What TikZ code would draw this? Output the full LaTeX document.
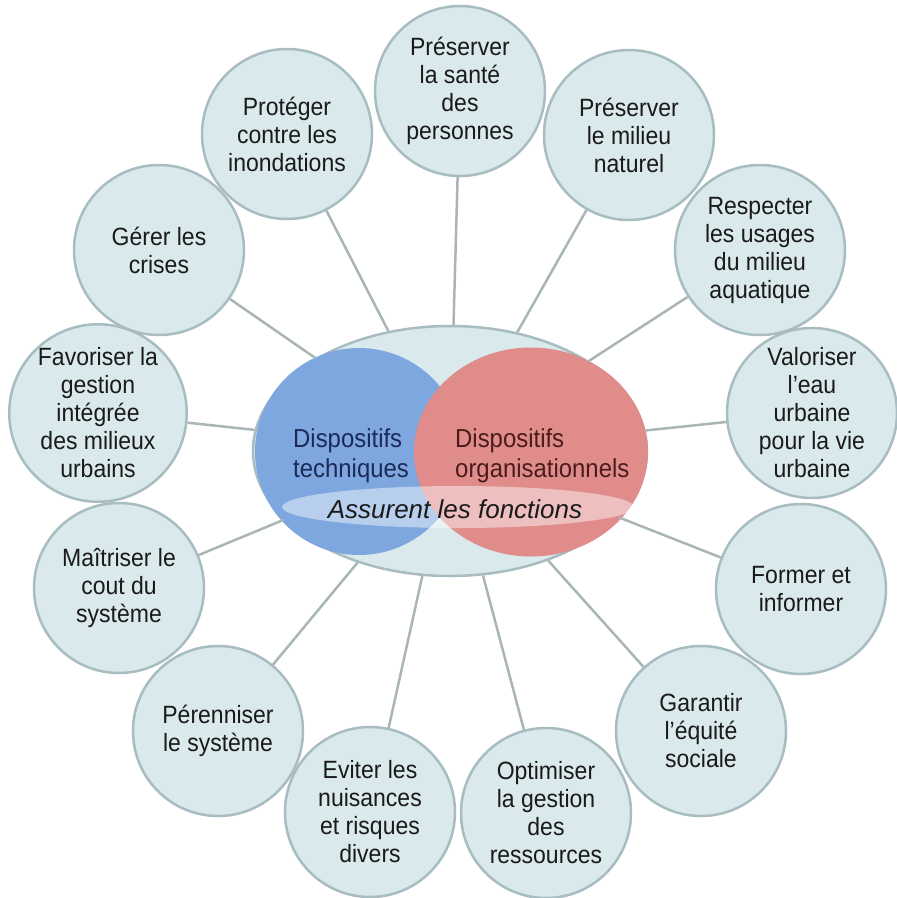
\documentclass[tikz,border=0pt]{standalone}
\usepackage{fontspec}
\setmainfont{Liberation Sans}[FakeStretch=0.92]
\newfontfamily\plainsans{Liberation Sans}
\usetikzlibrary{shapes.geometric}

\definecolor{bubblefill}{HTML}{DAE9EC}
\definecolor{bubbleedge}{HTML}{A7BDC1}
\definecolor{linkgray}{HTML}{A9B5B6}
\definecolor{techblue}{HTML}{7EA6DF}
\definecolor{orgred}{HTML}{E08C8B}
\definecolor{textdark}{HTML}{1A1A1A}
\definecolor{technavy}{HTML}{1C2A57}
\definecolor{orgmaroon}{HTML}{4A1C1E}

\begin{document}
\begin{tikzpicture}[x=1pt, y=-1pt,
  bubble/.style={circle, draw=bubbleedge, line width=2.5pt, fill=bubblefill,
    minimum size=170pt, inner sep=0pt, align=center, text=textdark,
    font=\fontsize{25}{28}\selectfont},
  link/.style={draw=linkgray, line width=2.5pt},
  setshape/.style={ellipse, inner sep=0pt, draw=none}]

\useasboundingbox (0,0) rectangle (897,898);

% central hub with the two device sets
\node[ellipse, draw=bubbleedge, line width=2.5pt, fill=bubblefill,
  minimum width=394pt, minimum height=250pt, inner sep=0pt] (hub) at (450,451) {};
\node[setshape, fill=techblue, minimum width=208pt, minimum height=207pt] (tech) at (359,451.5) {};
\node[setshape, fill=orgred, minimum width=234pt, minimum height=209pt] (org) at (531,452) {};
\node[setshape, fill=white, fill opacity=0.45, minimum width=352pt, minimum height=42pt] (band) at (458,507) {};

\node[anchor=west, align=left, text=technavy, font=\fontsize{26}{30}\selectfont, inner sep=0pt]
  (techlabel) at (293,456) {Dispositifs\\techniques};
\node[anchor=west, align=left, text=orgmaroon, font=\fontsize{26}{30}\selectfont, inner sep=0pt]
  (orglabel) at (455,456) {Dispositifs\\organisationnels};
\node[text=textdark, font=\plainsans\fontsize{26}{30}\selectfont\itshape, inner sep=0pt]
  (bandlabel) at (455,509) {Assurent les fonctions};

% functions around the hub
\node[bubble] (f1)  at (460,91)  {Préserver\\la santé\\des\\personnes};
\node[bubble] (f2)  at (629,135) {Préserver\\le milieu\\naturel};
\node[bubble] (f3)  at (760,250) {Respecter\\les usages\\du milieu\\aquatique};
\node[bubble] (f4)  at (812,413) {Valoriser\\l’eau\\urbaine\\pour la vie\\urbaine};
\node[bubble] (f5)  at (801,589) {Former et\\informer};
\node[bubble] (f6)  at (701,731) {Garantir\\l’équité\\sociale};
\node[bubble] (f7)  at (546,813) {Optimiser\\la gestion\\des\\ressources};
\node[bubble] (f8)  at (370,812) {Eviter les\\nuisances\\et risques\\divers};
\node[bubble] (f9)  at (218,731) {Pérenniser\\le système};
\node[bubble] (f10) at (119,588) {Maîtriser le\\cout du\\système};
\node[bubble] (f11) at (98,413)  {Favoriser la\\gestion\\intégrée\\des milieux\\urbains};
\node[bubble] (f12) at (159,250) {Gérer les\\crises};
\node[bubble] (f13) at (287,134) {Protéger\\contre les\\inondations};

% spokes
\foreach \f in {f1,f2,f3,f4,f5,f6,f7,f8,f9,f10,f11,f12,f13}
  \draw[link] (hub) -- (\f);

\end{tikzpicture}
\end{document}
